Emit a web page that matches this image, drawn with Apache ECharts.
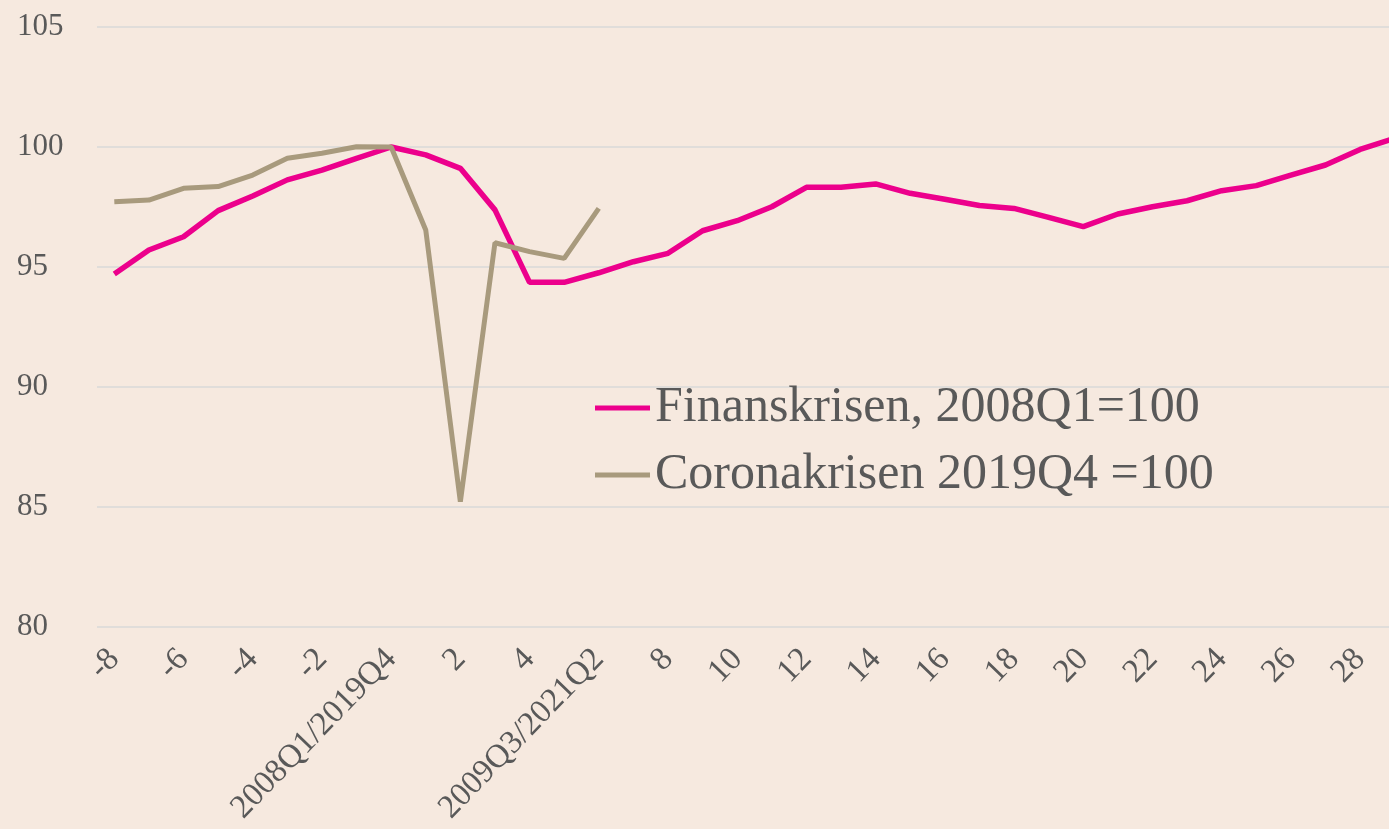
<!DOCTYPE html>
<html>
<head>
<meta charset="utf-8">
<script src="https://cdn.jsdelivr.net/npm/echarts@6/dist/echarts.min.js"></script>
<style>
html,body{margin:0;padding:0;background:#F6E9DF;}
#c{width:1389px;height:829px;}
</style>
</head>
<body>
<div id="c"></div>
<script>
const quarters = [-8,-7,-6,-5,-4,-3,-2,-1,0,1,2,3,4,5,6,7,8,9,10,11,12,13,14,15,16,17,18,19,20,21,22,23,24,25,26,27,28,29];
const categoryLabels = quarters.map(q => q === 0 ? '2008Q1/2019Q4' : (q === 6 ? '2009Q3/2021Q2' : String(q)));
const finanskrisen = [94.71,95.71,96.26,97.35,97.96,98.63,99.04,99.53,100,99.67,99.11,97.38,94.36,94.36,94.76,95.22,95.57,96.51,96.93,97.51,98.32,98.32,98.46,98.07,97.82,97.56,97.44,97.07,96.68,97.21,97.51,97.76,98.18,98.39,98.83,99.25,99.9,100.36];
const coronakrisen = [97.72,97.79,98.28,98.35,98.83,99.53,99.74,100.01,100,96.54,85.22,96.01,95.64,95.36,97.44];
const yTicks = {min:80, max:105, interval:5};
const seriesNames = ['Finanskrisen, 2008Q1=100','Coronakrisen 2019Q4 =100'];

const chart = echarts.init(document.getElementById('c'));
const font = '"Liberation Serif","DejaVu Serif",serif';
chart.setOption({
  backgroundColor:'#F6E9DF',
  animation:false,
  grid:{left:97, top:27, height:600, width:1315, containLabel:false, outerBoundsMode:'none'},
  legend:{
    orient:'vertical', left:590, top:378, icon:'rect', itemWidth:55, itemHeight:5, itemGap:17,
    textStyle:{fontFamily:font, fontSize:50, color:'#595959', lineHeight:48},
    data:seriesNames
  },
  xAxis:{
    type:'category', data:categoryLabels, boundaryGap:true,
    axisLine:{show:false}, axisTick:{show:false},
    axisLabel:{interval:1, rotate:46, fontFamily:font, fontSize:33, color:'#595959', margin:27}
  },
  yAxis:{
    type:'value', min:yTicks.min, max:yTicks.max, interval:yTicks.interval,
    axisLine:{show:false}, axisTick:{show:false},
    splitLine:{lineStyle:{color:'#D9D9D9', width:1.5}},
    axisLabel:{fontFamily:font, fontSize:31, color:'#595959', align:'left', margin:80}
  },
  series:[
    {name:seriesNames[0], type:'line', data:finanskrisen, showSymbol:false, symbol:'none',
     lineStyle:{color:'#EC008C', width:5.5}, itemStyle:{color:'#EC008C'}},
    {name:seriesNames[1], type:'line', data:coronakrisen, showSymbol:false, symbol:'none',
     lineStyle:{color:'#A89A7D', width:5}, itemStyle:{color:'#A89A7D'}}
  ]
});
</script>
</body>
</html>
